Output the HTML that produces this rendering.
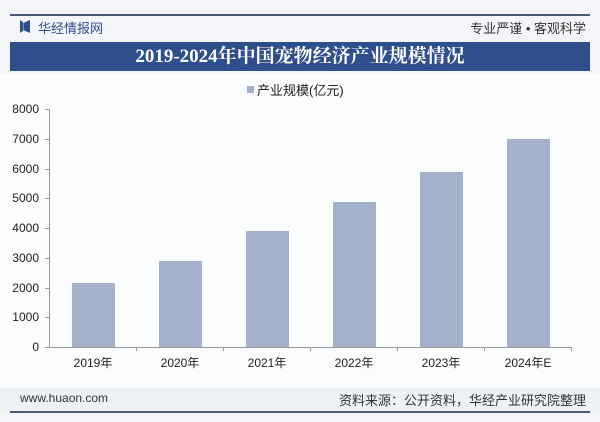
<!DOCTYPE html>
<html><head><meta charset="utf-8"><style>
body{margin:0;width:600px;height:422px;background:#f3f5f8;font-family:"Liberation Sans","Noto Sans CJK SC",sans-serif;position:relative;overflow:hidden}
.a{position:absolute}
</style></head><body>
<div class="a" style="left:10px;top:14px;width:580px;height:2px;background:#4a5b78"></div>
<div class="a" style="left:20px;top:20px;width:9px;height:13px;background:#2f4f8c;clip-path:polygon(0 0,40% 20%,40% 80%,0 100%)"></div>
<div class="a" style="left:24px;top:20px;width:6px;height:13px;background:#2f4f8c;clip-path:polygon(100% 0,0 20%,0 80%,100% 100%)"></div>
<div class="a" style="left:38px;top:18px;font-size:13px;color:#2f4f8c">华经情报网</div>
<div class="a" style="right:14px;top:18px;font-size:13px;color:#333">专业严谨 • 客观科学</div>
<div class="a" style="left:10px;top:42px;width:580px;height:29px;background:#2f4f8c;color:#fff;font-size:19px;font-weight:bold;text-align:center;line-height:29px;font-family:'Liberation Serif','Noto Serif CJK SC',serif">2019-2024年中国宠物经济产业规模情况</div>
<div class="a" style="left:0;top:74px;width:600px;height:314px;background:#fbfcfd"></div>
<div class="a" style="left:247px;top:86px;width:7px;height:7px;background:#a3b1cb"></div>
<div class="a" style="left:257px;top:80px;font-size:13px;color:#222">产业规模(亿元)</div>
<svg class="a" style="left:0;top:0" width="600" height="422">
<g font-size="12" fill="#222" text-anchor="end" font-family="Liberation Sans">
<text x="39" y="113">8000</text><text x="39" y="143">7000</text><text x="39" y="173">6000</text><text x="39" y="202">5000</text><text x="39" y="232">4000</text><text x="39" y="262">3000</text><text x="39" y="292">2000</text><text x="39" y="321">1000</text><text x="39" y="351">0</text>
</g>
<g stroke="#999" stroke-width="1">
<line x1="49" y1="347.5" x2="572" y2="347.5"/><line x1="49.5" y1="109" x2="49.5" y2="348"/>
<line x1="45" y1="109.5" x2="49" y2="109.5"/><line x1="45" y1="139.5" x2="49" y2="139.5"/><line x1="45" y1="169.5" x2="49" y2="169.5"/><line x1="45" y1="198.5" x2="49" y2="198.5"/><line x1="45" y1="228.5" x2="49" y2="228.5"/><line x1="45" y1="258.5" x2="49" y2="258.5"/><line x1="45" y1="288.5" x2="49" y2="288.5"/><line x1="45" y1="317.5" x2="49" y2="317.5"/><line x1="45" y1="347.5" x2="49" y2="347.5"/>
<line x1="136.5" y1="347" x2="136.5" y2="351"/><line x1="223.5" y1="347" x2="223.5" y2="351"/><line x1="310.5" y1="347" x2="310.5" y2="351"/><line x1="397.5" y1="347" x2="397.5" y2="351"/><line x1="484.5" y1="347" x2="484.5" y2="351"/><line x1="571.5" y1="347" x2="571.5" y2="351"/>
</g>
<g fill="#a3b1cb">
<rect x="72" y="283" width="43" height="64"/><rect x="159" y="261" width="43" height="86"/><rect x="246" y="231" width="43" height="116"/><rect x="333" y="202" width="43" height="145"/><rect x="420" y="172" width="43" height="175"/><rect x="507" y="139" width="43" height="208"/>
</g>
<g font-size="12" fill="#222" text-anchor="middle" font-family="Liberation Sans,Noto Sans CJK SC">
<text x="93" y="367">2019年</text><text x="180" y="367">2020年</text><text x="267" y="367">2021年</text><text x="354" y="367">2022年</text><text x="441" y="367">2023年</text><text x="528" y="367">2024年E</text>
</g>
</svg>
<div class="a" style="left:0;top:388px;width:600px;height:23px;background:#eef1f5"></div>
<div class="a" style="left:20px;top:391px;font-size:12px;color:#333">www.huaon.com</div>
<div class="a" style="right:14px;top:390px;font-size:13px;color:#333">资料来源：公开资料，华经产业研究院整理</div>
<div class="a" style="left:10px;top:411px;width:580px;height:2px;background:#4a5b78"></div>
</body></html>
